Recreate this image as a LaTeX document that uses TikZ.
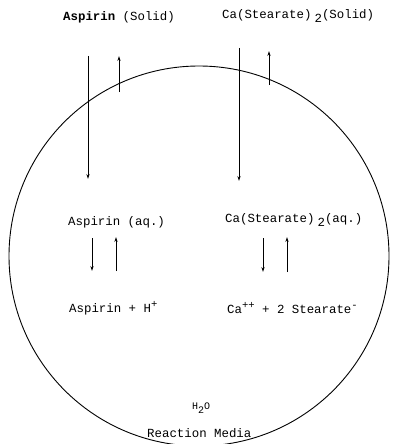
\documentclass[tikz,border=0pt]{standalone}
\usepackage{fontspec}
\setmonofont{Liberation Mono}
\usetikzlibrary{arrows.meta}
\tikzset{
  lbl/.style={font=\ttfamily\fontsize{12.4}{14}\selectfont, inner sep=0pt, anchor=west},
  arr/.style={line width=0.8pt, -{Stealth[length=5pt,width=3.2pt]}},
  medium/.style={line width=0.9pt}
}
\newcommand{\lowtwo}{\hspace{0.25em}\raisebox{-0.75ex}{2}}
\newcommand{\upch}[1]{\raisebox{0.75ex}{\fontsize{10.5}{12}\selectfont #1}}
\begin{document}
\begin{tikzpicture}[x=1pt,y=-1pt]
\useasboundingbox (0,0) rectangle (394,444);
% reaction medium
\draw[medium] (199,256) ellipse [x radius=190, y radius=190];
% labels
\node[lbl] (asol) at (63,17) {\textbf{Aspirin} (Solid)};
\node[lbl] (csol) at (222,16) {Ca(Stearate)\lowtwo(Solid)};
\node[lbl] (aaq) at (68,222) {Aspirin (aq.)};
\node[lbl] (caq) at (225,220) {Ca(Stearate)\lowtwo(aq.)};
\node[lbl] (aion) at (69,308) {Aspirin + H\upch{+}};
\node[lbl] (cion) at (227,308) {Ca\upch{++} + 2 Stearate\upch{-}};
\node[lbl, font=\ttfamily\fontsize{10}{12}\selectfont] (water) at (192,408) {H\raisebox{-0.7ex}{2}O};
\node[lbl] (media) at (147,433) {Reaction Media};
% arrow end points
\coordinate (a1s) at (88,56);   \coordinate (a1e) at (88,179);
\coordinate (a2s) at (119,92);  \coordinate (a2e) at (119,56);
\coordinate (c1s) at (239,48);  \coordinate (c1e) at (239,181);
\coordinate (c2s) at (269,85);  \coordinate (c2e) at (269,51);
\coordinate (a3s) at (92,238);  \coordinate (a3e) at (92,271);
\coordinate (a4s) at (116,271); \coordinate (a4e) at (116,237);
\coordinate (c3s) at (263,238); \coordinate (c3e) at (263,272);
\coordinate (c4s) at (287,272); \coordinate (c4e) at (287,237);
\draw[arr] (a1s) -- (a1e);
\draw[arr] (a2s) -- (a2e);
\draw[arr] (c1s) -- (c1e);
\draw[arr] (c2s) -- (c2e);
\draw[arr] (a3s) -- (a3e);
\draw[arr] (a4s) -- (a4e);
\draw[arr] (c3s) -- (c3e);
\draw[arr] (c4s) -- (c4e);
\end{tikzpicture}
\end{document}
